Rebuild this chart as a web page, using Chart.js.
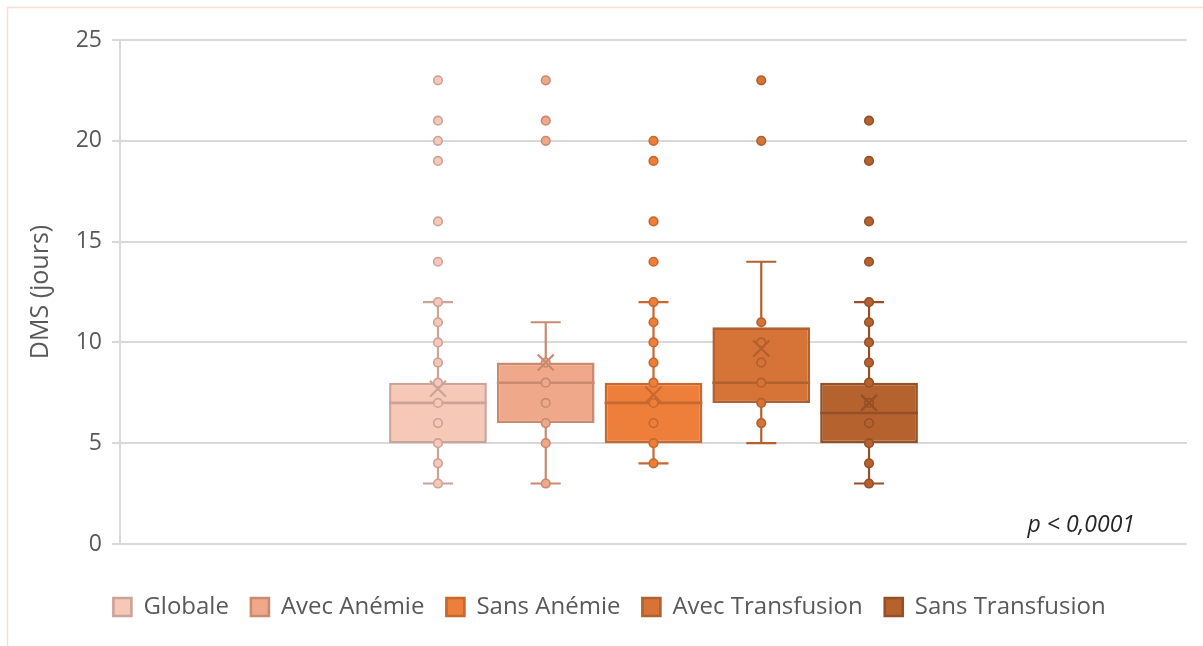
<!DOCTYPE html>
<html>
<head>
<meta charset="utf-8">
<script src="https://cdn.jsdelivr.net/npm/chart.js@4.4.1/dist/chart.umd.min.js"></script>
<style>
  html, body { margin: 0; padding: 0; background: #fff; overflow: hidden; }
  #wrap { width: 1203px; height: 646px; position: relative; }
</style>
</head>
<body>
<div id="wrap"><canvas id="grafico"></canvas></div>
<script>
// series (one box per series)
const seriesNames = ['Globale', 'Avec Anémie', 'Sans Anémie', 'Avec Transfusion', 'Sans Transfusion'];
const q1Values = [5, 6, 5, 7, 5];
const medianValues = [7, 8, 7, 8, 6.5];
const q3Values = [8, 9, 8, 10.75, 8];
const whiskerLow = [3, 3, 4, 5, 3];
const whiskerHigh = [12, 11, 12, 14, 12];
const meanValues = [7.7, 9.0, 7.4, 9.7, 7.0];

// individual points shown on each box
const pointsGlobale = [3, 4, 5, 6, 7, 8, 9, 10, 11, 12, 14, 16, 19, 20, 21, 23];
const pointsAvecAnemie = [3, 5, 6, 7, 8, 9, 20, 21, 23];
const pointsSansAnemie = [4, 5, 6, 7, 8, 9, 10, 11, 12, 14, 16, 19, 20];
const pointsAvecTransfusion = [6, 7, 8, 9, 10, 11, 20, 23];
const pointsSansTransfusion = [3, 4, 5, 6, 7, 8, 9, 10, 11, 12, 14, 16, 19, 21];
const allPoints = [pointsGlobale, pointsAvecAnemie, pointsSansAnemie, pointsAvecTransfusion, pointsSansTransfusion];

const yTicks = [0, 5, 10, 15, 20, 25];

const fills = ['#F5C8B8', '#EFA98A', '#EE7F3B', '#D67336', '#B5622F'];
const borders = ['#CCA398', '#C98A70', '#C7682E', '#B2602D', '#955028'];

const texto = '#595959';
const fuente = '"Open Sans", sans-serif';

// whiskers, medians, points and means drawn over the bars
const cajas = {
  id: 'cajas',
  afterLayout(chart) {
    // legend sits a bit right of centre in the original
    chart.legend.left += 16;
    chart.legend.right += 16;
  },
  beforeDraw(chart) {
    const c = chart.ctx;
    c.save();
    c.strokeStyle = '#FADFCF';
    c.lineWidth = 1.5;
    c.beginPath();
    c.moveTo(7.5, chart.height);
    c.lineTo(7.5, 7.5);
    c.lineTo(chart.width, 7.5);
    c.stroke();
    c.restore();
  },
  afterDatasetsDraw(chart) {
    const c = chart.ctx;
    const y = chart.scales.y;
    c.save();
    chart.data.datasets.forEach((ds, i) => {
      const bar = chart.getDatasetMeta(i).data[0];
      const x = bar.x, w = bar.width;
      const col = borders[i];
      c.strokeStyle = col;
      c.lineWidth = 2.2;
      // whiskers
      c.beginPath();
      c.moveTo(x, y.getPixelForValue(q3Values[i]));
      c.lineTo(x, y.getPixelForValue(whiskerHigh[i]));
      c.moveTo(x, y.getPixelForValue(q1Values[i]));
      c.lineTo(x, y.getPixelForValue(whiskerLow[i]));
      [whiskerHigh[i], whiskerLow[i]].forEach(v => {
        const py = y.getPixelForValue(v);
        c.moveTo(x - 15, py);
        c.lineTo(x + 15, py);
      });
      c.stroke();
      // median
      const my = y.getPixelForValue(medianValues[i]);
      c.lineWidth = 2.6;
      c.beginPath();
      c.moveTo(x - w / 2, my);
      c.lineTo(x + w / 2, my);
      c.stroke();
      // points
      c.lineWidth = 1.6;
      c.fillStyle = fills[i];
      allPoints[i].forEach(v => {
        c.beginPath();
        c.arc(x, y.getPixelForValue(v), 4.3, 0, Math.PI * 2);
        c.fill();
        c.stroke();
      });
      // mean
      const ay = y.getPixelForValue(meanValues[i]);
      c.lineWidth = 2.2;
      c.beginPath();
      c.moveTo(x - 8, ay - 8);
      c.lineTo(x + 8, ay + 8);
      c.moveTo(x + 8, ay - 8);
      c.lineTo(x - 8, ay + 8);
      c.stroke();
    });
    // p value
    c.fillStyle = '#262626';
    c.font = 'italic 23px ' + fuente;
    c.textAlign = 'right';
    c.textBaseline = 'alphabetic';
    c.fillText('p < 0,0001', chart.chartArea.right - 52, y.getPixelForValue(0) - 12);
    c.restore();
  }
};

const ctx = document.getElementById('grafico').getContext('2d');
new Chart(ctx, {
  type: 'bar',
  data: {
    labels: [''],
    datasets: seriesNames.map((n, i) => ({
      label: n,
      data: [[q1Values[i], q3Values[i]]],
      backgroundColor: fills[i],
      borderColor: borders[i],
      borderWidth: 2.6,
      borderSkipped: false
    }))
  },
  options: {
    responsive: true,
    maintainAspectRatio: false,
    animation: false,
    categoryPercentage: 0.505,
    barPercentage: 0.907,
    layout: { padding: { left: 0, right: 16, top: 40, bottom: 17 } },
    plugins: {
      tooltip: { enabled: false },
      legend: {
        position: 'bottom',
        labels: {
          boxWidth: 18,
          boxHeight: 18,
          padding: 22,
          color: texto,
          font: { family: fuente, size: 24 }
        }
      }
    },
    scales: {
      x: {
        ticks: { display: false },
        grid: { display: false },
        border: { display: false },
        afterFit(scale) { scale.height = 29; }
      },
      y: {
        min: 0,
        max: 25,
        afterBuildTicks(scale) { scale.ticks = yTicks.map(v => ({ value: v })); },
        afterFit(scale) { scale.width = 120; },
        border: { color: '#D9D9D9', width: 2 },
        grid: { color: '#D9D9D9', lineWidth: 2, tickLength: 8 },
        ticks: { color: texto, padding: 10, font: { family: fuente, size: 23 } },
        title: {
          display: true,
          text: 'DMS (jours)',
          color: texto,
          padding: { top: 26, bottom: 0 },
          font: { family: fuente, size: 25 }
        }
      }
    }
  },
  plugins: [cajas]
});
</script>
</body>
</html>
